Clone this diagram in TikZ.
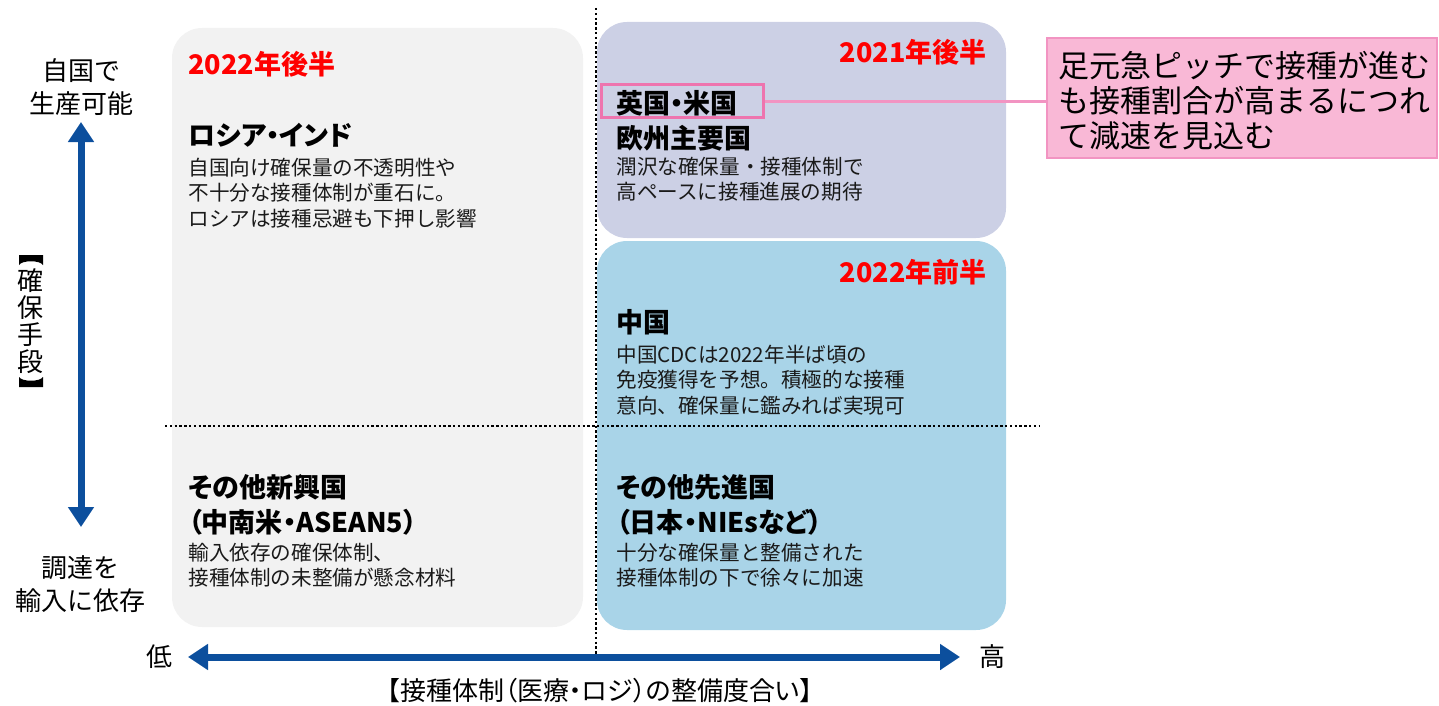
\documentclass[tikz,border=0pt]{standalone}
\usepackage{fontspec}
\setmainfont{Noto Sans CJK JP}
\usetikzlibrary{arrows.meta}
\definecolor{boxgray}{HTML}{F2F2F2}
\definecolor{boxlav}{HTML}{CCD0E5}
\definecolor{boxblue}{HTML}{A9D4E8}
\definecolor{axisblue}{HTML}{0C4F9D}
\definecolor{calloutfill}{HTML}{F9B8D6}
\definecolor{calloutdraw}{HTML}{F294C2}
\definecolor{hilite}{HTML}{EE74AE}
\definecolor{bodytext}{HTML}{1A1A1A}
\tikzset{
  quad/.style={rounded corners=15pt, draw=none},
  bodytxt/.style={font=\fontsize{10.3}{12.6}\selectfont, align=left, anchor=west, inner sep=0pt, text=bodytext},
  headtxt/.style={font=\bfseries\addfontfeatures{RawFeature=+palt}\fontsize{13.5}{17.5}\selectfont, align=left, anchor=west, inner sep=0pt},
  period/.style={font=\bfseries\fontsize{13.5}{16}\selectfont, text=red, inner sep=0pt},
  axlabel/.style={font=\fontsize{13}{16.5}\selectfont, align=center, inner sep=0pt},
  gridline/.style={line width=1pt, dash pattern=on 1.2pt off 1.2pt},
  axisarrow/.style={draw=axisblue, line width=3.5pt, {Triangle[width=12.5pt,length=10pt]}-{Triangle[width=12.5pt,length=10pt]}},
  bracketmark/.style={fill=black, draw=none},
}
\begin{document}
\begin{tikzpicture}[x=0.5pt,y=-0.5pt]
\useasboundingbox (0,0) rectangle (1439,706);

% quadrant boxes
\fill[quad, boxgray] (172,28) rectangle (583,627);
\fill[quad, boxlav] (597,22) rectangle (1006,238);
\fill[quad, boxblue] (597,241) rectangle (1006,630);

% dotted grid lines
\draw[gridline] (596,8) -- (596,655);
\draw[gridline] (165,426) -- (1040,426);

% axis arrows
\coordinate (vtop) at (81,122);
\coordinate (vbot) at (81,527);
\coordinate (hleft) at (188,657);
\coordinate (hright) at (960,657);
\draw[axisarrow] (vtop) -- (vbot);
\draw[axisarrow] (hleft) -- (hright);

% axis labels
\node[axlabel] (ytop) at (81,87) {自国で\\生産可能};
\node[axlabel] (ybot) at (81,584) {調達を\\輸入に依存};
\node[axlabel, font=\fontsize{13}{13.5}\selectfont] (ytitle) at (31,321) {確\\保\\手\\段};
% vertical lenticular brackets of the y-axis title
\fill[bracketmark] (19,255) -- (43,255) -- (43,265) .. controls (40,260) and (22,260) .. (19,265) -- cycle;
\fill[bracketmark] (19,387) -- (43,387) -- (43,377) .. controls (40,382) and (22,382) .. (19,377) -- cycle;
\node[axlabel] (xlow) at (159,657) {低};
\node[axlabel] (xhigh) at (992,657) {高};
\node[axlabel, font=\addfontfeatures{RawFeature=+palt}\fontsize{13}{16.5}\selectfont] (xtitle) at (600,691) {【接種体制（医療・ロジ）の整備度合い】};

% top-left quadrant
\node[period, anchor=west] (p1) at (188,64) {2022年後半};
\node[headtxt] (h1) at (188,135) {ロシア・インド};
\node[bodytxt] (b1) at (188,193) {自国向け確保量の不透明性や\\不十分な接種体制が重石に。\\ロシアは接種忌避も下押し影響};

% top-right quadrant
\node[period, anchor=east] (p2) at (987,52) {2021年後半};
\node[headtxt] (h2) at (616,120.5) {英国・米国\\欧州主要国};
\node[bodytxt] (b2) at (616,179.5) {潤沢な確保量・接種体制で\\高ペースに接種進展の期待};

% bottom-right upper part
\node[period, anchor=east] (p3) at (987,272) {2022年前半};
\node[headtxt] (h3) at (616,322) {中国};
\node[bodytxt] (b3) at (616,380) {中国CDCは2022年半ば頃の\\免疫獲得を予想。積極的な接種\\意向、確保量に鑑みれば実現可};

% bottom-left quadrant
\node[headtxt] (h4) at (188,505) {その他新興国\\（中南米・ASEAN5）};
\node[bodytxt] (b4) at (188,565) {輸入依存の確保体制、\\接種体制の未整備が懸念材料};

% bottom-right lower part
\node[headtxt] (h5) at (616,505) {その他先進国\\（日本・NIEsなど）};
\node[bodytxt] (b5) at (616,565) {十分な確保量と整備された\\接種体制の下で徐々に加速};

% highlight and callout
\node[draw=hilite, line width=1.5pt, minimum width=81pt, minimum height=16.5pt, inner sep=0pt] (hl) at (682,101.5) {};
\node[draw=calloutdraw, fill=calloutfill, line width=0.8pt, minimum width=195pt, minimum height=60pt, inner sep=0pt] (callout) at (1242,98) {};
\node[font=\fontsize{15.5}{17.5}\selectfont, align=left, anchor=west, inner sep=0pt] (ctext) at (1058,101) {足元急ピッチで接種が進む\\も接種割合が高まるにつれ\\て減速を見込む};
\draw[draw=calloutdraw, line width=1.5pt] (hl.east) -- (hl.east -| callout.west);
\end{tikzpicture}
\end{document}
